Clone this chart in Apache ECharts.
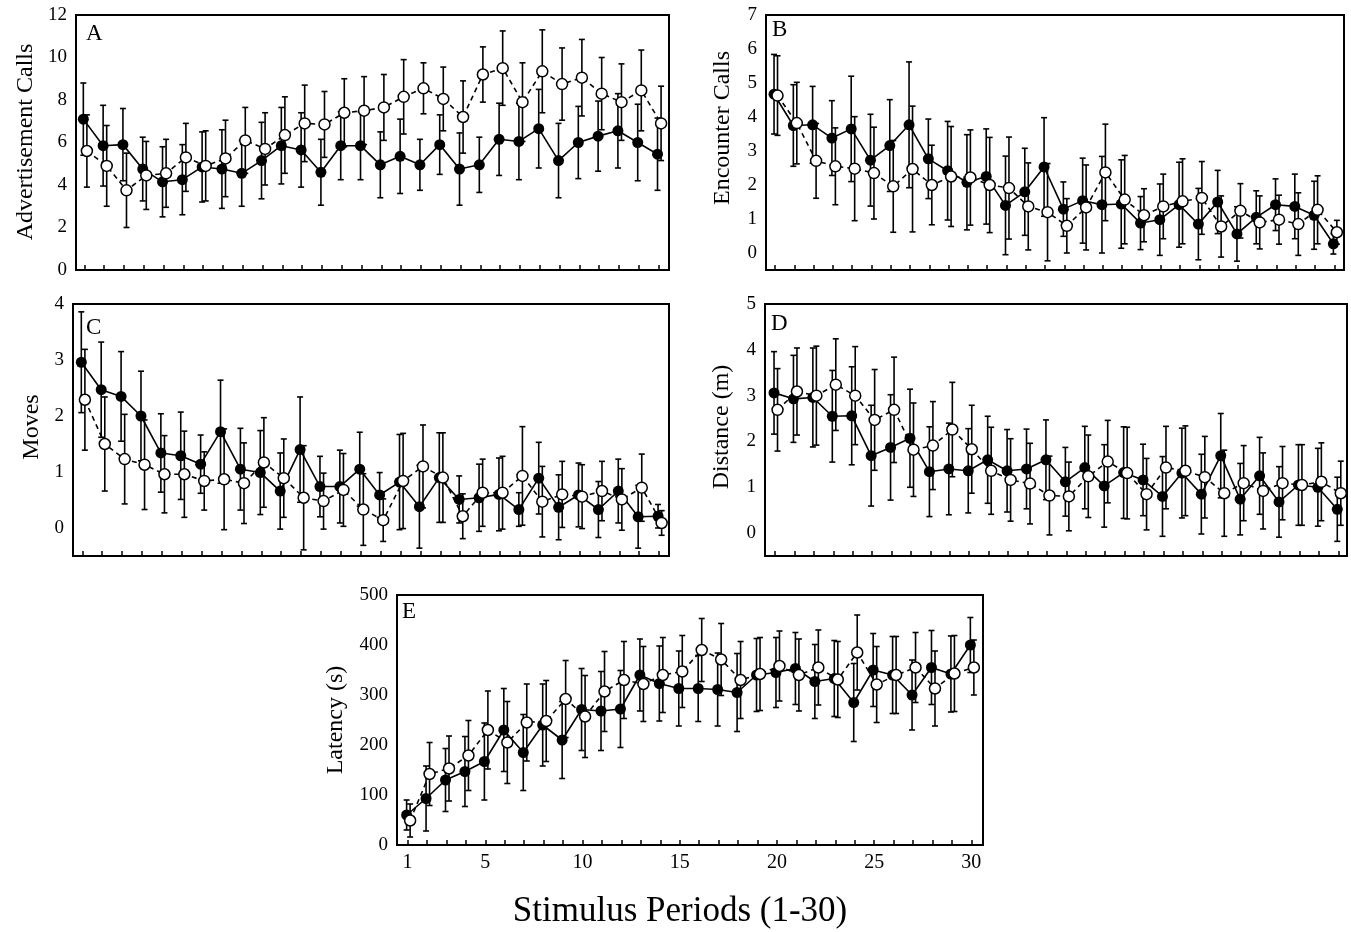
<!DOCTYPE html>
<html>
<head>
<meta charset="utf-8">
<script src="https://cdn.jsdelivr.net/npm/echarts@6/dist/echarts.min.js"></script>
<style>
html,body{margin:0;padding:0;background:#fff;}
#chart{width:1351px;height:932px;}
</style>
</head>
<body>
<div id="chart"></div>
<script>
// ---------- DATA ----------
const periods = [1,2,3,4,5,6,7,8,9,10,11,12,13,14,15,16,17,18,19,20,21,22,23,24,25,26,27,28,29,30];
const xLabelTicks = [1,5,10,15,20,25,30];

// A: Advertisement Calls
const advTicks = [0,2,4,6,8,10,12];
const advFilled    = [7.1,5.85,5.9,4.75,4.15,4.25,4.85,4.75,4.55,5.15,5.85,5.65,4.6,5.85,5.85,4.95,5.35,4.95,5.9,4.75,4.95,6.15,6.05,6.65,5.15,6.0,6.3,6.55,6.0,5.45];
const advFilledErr = [1.7,1.9,1.7,1.5,1.65,1.65,1.65,1.85,1.55,1.8,1.8,1.75,1.55,1.6,1.6,1.55,1.75,1.2,1.4,1.7,1.3,1.7,1.8,1.85,1.75,1.7,1.65,1.75,1.8,1.7];
const advOpen      = [5.6,4.9,3.75,4.45,4.55,5.3,4.9,5.25,6.1,5.7,6.35,6.9,6.85,7.4,7.5,7.65,8.15,8.55,8.05,7.2,9.2,9.5,7.9,9.35,8.75,9.05,8.3,7.9,8.45,6.9];
const advOpenErr   = [1.7,1.9,1.75,1.6,1.6,1.6,1.65,1.8,1.55,1.7,1.8,1.8,1.55,1.6,1.6,1.55,1.75,1.2,1.5,1.7,1.3,1.75,1.85,1.95,1.7,1.8,1.7,1.8,1.9,1.75];

// B: Encounter Calls
const encTicks = [0,1,2,3,4,5,6,7];
const encFilled    = [4.67,3.75,3.77,3.38,3.65,2.73,3.16,3.77,2.77,2.42,2.08,2.25,1.4,1.8,2.53,1.29,1.54,1.42,1.44,0.88,0.98,1.42,0.85,1.5,0.56,1.05,1.42,1.37,1.11,0.27];
const encFilledErr = [1.17,1.2,1.13,1.1,1.55,1.35,1.35,1.85,1.17,1.45,1.4,1.4,1.45,1.28,1.45,0.8,1.25,1.42,1.3,0.78,1.05,1.25,1.05,0.93,0.8,0.78,0.76,0.95,1.0,0.3];
const encOpen      = [4.63,3.82,2.71,2.55,2.48,2.35,1.96,2.47,2.0,2.25,2.22,2.0,1.91,1.37,1.2,0.8,1.34,2.37,1.57,1.11,1.37,1.52,1.62,0.78,1.24,0.9,0.98,0.85,1.27,0.61];
const encOpenErr   = [1.17,1.2,1.1,1.13,1.53,1.35,1.35,1.85,1.17,1.47,1.4,1.4,1.5,1.28,1.43,0.8,1.25,1.42,1.3,0.78,0.95,1.25,1.07,0.9,0.8,0.78,0.72,0.92,1.0,0.35];

// C: Moves
const movTicks = [0,1,2,3,4];
const movFilled    = [2.96,2.47,2.35,2.0,1.34,1.29,1.14,1.72,1.05,0.99,0.66,1.4,0.74,0.74,1.05,0.59,0.82,0.38,0.9,0.51,0.54,0.6,0.33,0.89,0.37,0.59,0.33,0.66,0.2,0.21];
const movFilledErr = [0.9,0.85,0.8,0.8,0.7,0.78,0.52,0.92,0.73,0.75,0.68,0.94,0.54,0.65,0.66,0.4,0.85,0.74,0.8,0.42,0.6,0.65,0.3,0.64,0.58,0.57,0.5,0.57,0.56,0.21];
const movOpen      = [2.29,1.5,1.23,1.13,0.96,0.96,0.84,0.87,0.8,1.17,0.89,0.54,0.48,0.68,0.33,0.14,0.84,1.1,0.9,0.21,0.63,0.63,0.93,0.47,0.6,0.56,0.66,0.51,0.72,0.09];
const movOpenErr   = [0.9,0.84,0.8,0.8,0.69,0.77,0.52,0.9,0.72,0.8,0.7,0.93,0.5,0.65,0.64,0.38,0.85,0.74,0.8,0.4,0.6,0.65,0.88,0.63,0.59,0.57,0.53,0.55,0.6,0.22];

// D: Distance (m)
const disTicks = [0,1,2,3,4,5];
const disFilled    = [3.06,2.93,2.96,2.55,2.56,1.69,1.87,2.07,1.34,1.4,1.36,1.6,1.36,1.4,1.6,1.12,1.43,1.03,1.32,1.16,0.8,1.31,0.85,1.69,0.74,1.25,0.68,1.05,1.0,0.52];
const disFilledErr = [0.9,0.95,1.08,1.0,1.07,1.1,1.15,1.07,0.98,1.0,0.92,0.95,0.9,0.87,0.87,0.75,0.9,0.9,1.0,0.78,0.87,0.98,0.87,0.92,0.78,0.84,0.77,0.88,0.85,0.7];
const disOpen      = [2.69,3.09,3.0,3.24,3.0,2.47,2.69,1.82,1.91,2.26,1.83,1.36,1.16,1.08,0.82,0.8,1.24,1.56,1.31,0.85,1.43,1.36,1.22,0.87,1.09,0.92,1.09,1.05,1.12,0.87];
const disOpenErr   = [0.9,0.95,1.08,1.0,1.07,1.1,1.15,1.02,0.96,1.03,0.96,0.95,0.9,0.88,0.86,0.75,0.9,0.9,1.0,0.78,0.9,0.98,0.89,0.94,0.82,0.83,0.8,0.88,0.85,0.7];

// E: Latency (s)
const latTicks = [0,100,200,300,400,500];
const latFilled    = [60,93,130,147,167,230,185,240,210,271,268,272,340,323,313,313,311,305,340,345,353,327,333,285,350,340,300,355,342,400];
const latFilledErr = [30,65,63,70,77,83,76,82,77,82,79,77,72,75,75,66,73,78,73,70,72,74,76,78,73,77,70,74,76,55];
const latOpen      = [49,142,153,179,230,205,245,248,292,257,307,330,322,340,347,390,371,330,342,358,340,355,331,385,321,340,355,313,343,355];
const latOpenErr   = [33,63,65,70,78,82,77,81,77,82,80,77,75,75,72,63,72,77,73,70,72,75,76,75,76,77,70,75,76,55];

// ---------- LAYOUT ----------
const FONT = '"Liberation Serif", "DejaVu Serif", serif';
const panels = [
  {grid:{left:76, top:15, width:593, height:255}, xMin:0.58, xMax:30.53, yMin:0, yMax:12, ticks:advTicks,
   f:advFilled, fe:advFilledErr, o:advOpen, oe:advOpenErr, letter:'A', lx:86, ly:22, title:'Advertisement Calls', tx:26, ty:142},
  {grid:{left:766, top:15, width:578, height:255}, xMin:0.533, xMax:30.5, yMin:-0.5, yMax:7, ticks:encTicks,
   f:encFilled, fe:encFilledErr, o:encOpen, oe:encOpenErr, letter:'B', lx:772, ly:18, title:'Encounter Calls', tx:723, ty:128},
  {grid:{left:73, top:304, width:596, height:252}, xMin:0.532, xMax:30.5, yMin:-0.5, yMax:4, ticks:movTicks,
   f:movFilled, fe:movFilledErr, o:movOpen, oe:movOpenErr, letter:'C', lx:86, ly:316, title:'Moves', tx:32, ty:427},
  {grid:{left:765, top:304, width:582, height:252}, xMin:0.485, xMax:30.45, yMin:-0.5, yMax:5, ticks:disTicks,
   f:disFilled, fe:disFilledErr, o:disOpen, oe:disOpenErr, letter:'D', lx:771, ly:312, title:'Distance (m)', tx:722, ty:427},
  {grid:{left:397, top:595, width:586, height:250}, xMin:0.455, xMax:30.6, yMin:0, yMax:500, ticks:latTicks,
   f:latFilled, fe:latFilledErr, o:latOpen, oe:latOpenErr, letter:'E', lx:402, ly:600, title:'Latency (s)', tx:336, ty:720}
];
const FOFF = -0.05, OOFF = 0.13;

function errRender(params, api){
  const x = api.value(0), y = api.value(1), e = api.value(2);
  const t = api.coord([x, y + e]), b = api.coord([x, y - e]);
  const w = 3;
  const st = {stroke:'#000', lineWidth:1.6};
  return {type:'group', children:[
    {type:'line', shape:{x1:t[0], y1:t[1], x2:b[0], y2:b[1]}, style:st},
    {type:'line', shape:{x1:t[0]-w, y1:t[1], x2:t[0]+w, y2:t[1]}, style:st},
    {type:'line', shape:{x1:b[0]-w, y1:b[1], x2:b[0]+w, y2:b[1]}, style:st}
  ]};
}

const grids = [], xAxes = [], yAxes = [], series = [], graphics = [];
panels.forEach((p, k) => {
  grids.push(Object.assign({show:true, borderColor:'#000', borderWidth:2, backgroundColor:'#fff'}, p.grid));
  xAxes.push({
    type:'value', gridIndex:k, min:p.xMin, max:p.xMax, position:'bottom',
    axisLine:{show:false, onZero:false}, splitLine:{show:false},
    axisTick:{show:true, inside:true, length:5, customValues:periods, lineStyle:{color:'#000', width:1.5}},
    axisLabel:{show:k===4, customValues:xLabelTicks, color:'#000', fontFamily:FONT, fontSize:20, margin:8}
  });
  yAxes.push({
    type:'value', gridIndex:k, min:p.yMin, max:p.yMax,
    axisLine:{show:false, onZero:false}, splitLine:{show:false}, axisTick:{show:false},
    axisLabel:{customValues:p.ticks, color:'#000', fontFamily:FONT, fontSize:19, margin:9}
  });
  const fd = periods.map((x,i)=>[x+FOFF, p.f[i], p.fe[i]]);
  const od = periods.map((x,i)=>[x+OOFF, p.o[i], p.oe[i]]);
  series.push({type:'custom', xAxisIndex:k, yAxisIndex:k, renderItem:errRender, data:fd, encode:{x:0,y:1}, z:1, silent:true});
  series.push({type:'custom', xAxisIndex:k, yAxisIndex:k, renderItem:errRender, data:od, encode:{x:0,y:1}, z:1, silent:true});
  series.push({type:'line', xAxisIndex:k, yAxisIndex:k, data:fd.map(d=>[d[0],d[1]]), z:3,
    symbol:'circle', symbolSize:11, itemStyle:{color:'#000'}, lineStyle:{color:'#000', width:1.6}, silent:true});
  series.push({type:'line', xAxisIndex:k, yAxisIndex:k, data:od.map(d=>[d[0],d[1]]), z:4,
    symbol:'circle', symbolSize:11, itemStyle:{color:'#fff', borderColor:'#000', borderWidth:1.5},
    lineStyle:{color:'#000', width:1.6, type:[5,4]}, silent:true});
  graphics.push({type:'text', left:p.lx, top:p.ly, z:10, style:{text:p.letter, font:'23px '+FONT, fill:'#000'}});
  graphics.push({type:'text', x:p.tx, y:p.ty, rotation:Math.PI/2, z:10,
    style:{text:p.title, font:'24px '+FONT, fill:'#000', align:'center', verticalAlign:'middle'}});
});
graphics.push({type:'text', x:680, y:912, z:10,
  style:{text:'Stimulus Periods (1-30)', font:'35px '+FONT, fill:'#000', align:'center', verticalAlign:'middle'}});

const chart = echarts.init(document.getElementById('chart'), null, {renderer:'canvas'});
chart.setOption({
  animation:false,
  backgroundColor:'#fff',
  grid:grids, xAxis:xAxes, yAxis:yAxes, series:series, graphic:graphics
});
</script>
</body>
</html>
